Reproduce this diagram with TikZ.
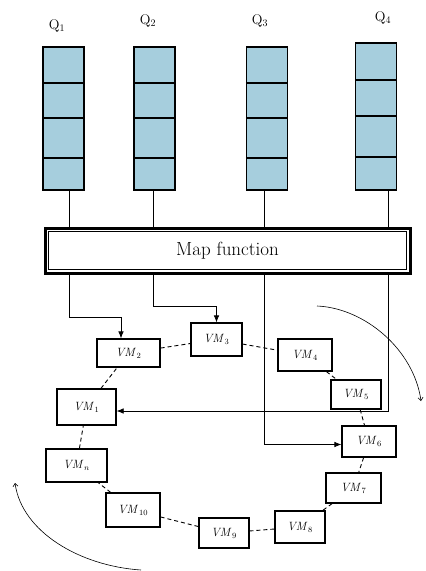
\documentclass[tikz,border=0pt]{standalone}
\usepackage{tikz}
\usetikzlibrary{arrows.meta,positioning}
\definecolor{queueblue}{RGB}{166,206,221}
\tikzset{
  queue/.style  = {draw, line width=1.2pt, fill=queueblue, inner sep=0pt,
                   minimum width=41pt, minimum height=143pt},
  qlabel/.style = {font=\fontsize{14}{15}\selectfont},
  vm/.style     = {draw, line width=1.2pt, fill=white, inner sep=0pt,
                   font=\fontsize{12}{13}\selectfont},
  mapbox/.style = {draw, line width=3pt, fill=white, inner sep=0pt,
                   minimum width=365pt, minimum height=45pt,
                   font=\fontsize{19}{21}\selectfont},
  link/.style   = {->, line width=0.7pt},
  ring/.style   = {dash pattern=on 4pt off 3pt, line width=0.9pt},
  turn/.style   = {line width=0.6pt, -{Straight Barb[length=3pt,width=5pt]}}
}

\begin{document}
\begin{tikzpicture}[x=1pt, y=-1pt, >={Latex[length=7pt,width=5.5pt]}]
\useasboundingbox (0,0) rectangle (426,571);

% the four queues
\node[queue] (q1) at (63.5,118.5) {};
\node[queue] (q2) at (154.5,118.5) {};
\node[queue] (q3) at (267,118.5) {};
\node[queue, minimum height=147pt] (q4) at (376,116.5) {};

\foreach \n/\a/\b/\c in {1/83/118/158, 2/83/118/158, 3/83/118/158, 4/80/116/157}
  \foreach \y in {\a,\b,\c}
    \draw[line width=1.2pt] (q\n.west |- 0,\y) -- (q\n.east |- 0,\y);

\node[qlabel] (l1) at (57,26) {Q$_1$};
\node[qlabel] (l2) at (148,21) {Q$_2$};
\node[qlabel] (l3) at (260,21) {Q$_3$};
\node[qlabel] (l4) at (383,18) {Q$_4$};

% the ring of virtual machines
\node[vm, minimum width=59pt, minimum height=36pt] (vm1)  at (86.5,407)   {$\mathit{VM}_1$};
\node[vm, minimum width=63pt, minimum height=28pt] (vm2)  at (128.5,353)  {$\mathit{VM}_2$};
\node[vm, minimum width=51pt, minimum height=33pt] (vm3)  at (216.5,339.5) {$\mathit{VM}_3$};
\node[vm, minimum width=54pt, minimum height=32pt] (vm4)  at (305,355)    {$\mathit{VM}_4$};
\node[vm, minimum width=50pt, minimum height=29pt] (vm5)  at (356,394.5)  {$\mathit{VM}_5$};
\node[vm, minimum width=54pt, minimum height=31pt] (vm6)  at (369,441.5)  {$\mathit{VM}_6$};
\node[vm, minimum width=55pt, minimum height=30pt] (vm7)  at (353.5,488)  {$\mathit{VM}_7$};
\node[vm, minimum width=50pt, minimum height=32pt] (vm8)  at (300,527)    {$\mathit{VM}_8$};
\node[vm, minimum width=50pt, minimum height=30pt] (vm9)  at (224,533)    {$\mathit{VM}_9$};
\node[vm, minimum width=54pt, minimum height=34pt] (vm10) at (133,510)    {$\mathit{VM}_{10}$};
\node[vm, minimum width=61pt, minimum height=33pt] (vmn)  at (76.5,465.5) {$\mathit{VM}_n$};

% dashed links round the ring
\foreach \a/\b in {vm1/vm2, vm2/vm3, vm3/vm4, vm4/vm5, vm5/vm6, vm6/vm7,
                   vm7/vm8, vm8/vm9, vm9/vm10, vm10/vmn, vmn/vm1}
  \draw[ring] (\a) -- (\b);

% queue outputs through the map function
\draw[link] ([xshift=5.5pt]q1.south) -- ++(0,127) -| ([xshift=-7.5pt]vm2.north);
\draw[link] ([xshift=-1.5pt]q2.south) -- ++(0,116) -| (vm3.north);
\draw[link] ([xshift=-3pt]q3.south) |- ([yshift=-3pt]vm6.west);
\draw[link] ([xshift=12pt]q4.south) |- ([yshift=-4pt]vm1.east);

% map function box on top of the lines
\node[mapbox] (map) at (227.5,250.5) {Map function};
\draw[line width=0.5pt] ([shift={(5pt,-5pt)}]map.north west) rectangle ([shift={(-5pt,5pt)}]map.south east);

% rotation arrows
\coordinate (r1) at (317,306);
\coordinate (r2) at (421,401);
\coordinate (s1) at (141,570);
\coordinate (s2) at (15,483);
\draw[turn] (r1) .. controls (365,308) and (414,350) .. (r2);
\draw[turn] (s1) .. controls (80,566) and (22,532) .. (s2);
\end{tikzpicture}
\end{document}
